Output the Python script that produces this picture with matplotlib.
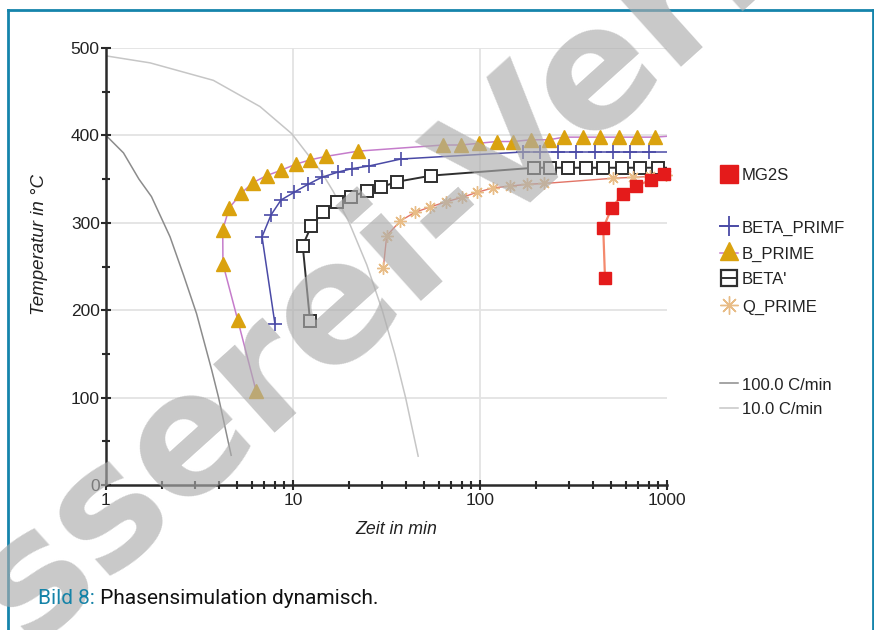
import matplotlib
matplotlib.use('Agg')
import matplotlib.pyplot as plt
from matplotlib.lines import Line2D
from matplotlib.ticker import FixedLocator, NullFormatter, FixedFormatter

# ---------------- data ----------------
b_prime_t = [6.34, 5.06, 4.22, 4.21, 4.56, 5.30, 6.11, 7.23, 8.60, 10.34, 12.33, 15.02, 22.3,
             63.6, 79.1, 98.8, 122.8, 150.7, 186.7, 233.9, 281.3, 354, 438, 554, 688, 863, 1000]
b_prime_T = [108, 189, 253, 292, 317, 334, 346, 354, 360, 367, 372, 376, 382,
             389, 389, 391, 393, 393, 395, 395, 398, 398, 398, 398, 398, 398, 399]

beta_prime_t = [8.01, 6.83, 7.63, 8.62, 10.15, 12.03, 14.23, 17.4, 20.7, 25.5, 37.8,
                169, 209, 262, 326, 412, 512, 634, 804, 1000]
beta_prime_T = [184, 284, 309, 326, 335, 344, 352, 358, 362, 365, 373,
                381, 381, 381, 381, 381, 381, 381, 381, 381]

beta_t = [12.33, 11.27, 12.51, 14.41, 17.19, 20.37, 24.8, 29.7, 36.1, 54.9,
          195, 236.7, 296.7, 367.5, 456.5, 572.3, 717, 898, 1000]
beta_T = [188, 274, 296, 312, 324, 330, 336, 341, 347, 354,
          363, 363, 363, 363, 363, 363, 363, 363, 363]

q_prime_t = [30.4, 31.7, 37.4, 44.9, 54.0, 65.8, 79.8, 96.8, 117.8, 144.6, 177.7, 220.7,
             516, 655, 811, 988]
q_prime_T = [248, 285, 302, 312, 318, 324, 329, 335, 340, 342, 344, 345,
             351, 352, 353, 355]

mg2s_t = [466, 456, 506, 580, 683, 818, 964]
mg2s_T = [237, 294, 317, 333, 342, 349, 356]

cool100_t = [1.0, 1.24, 1.5, 1.75, 2.2, 2.6, 3.05, 3.67, 4.0, 4.67]
cool100_T = [400, 380, 350, 330, 284, 240, 196, 132, 100, 34]

cool10_t = [1.0, 1.72, 3.75, 6.66, 9.84, 14.2, 16.4, 20, 24.8, 30, 35, 40, 46.7]
cool10_T = [491, 483, 463, 433, 402, 358, 336, 300, 252, 200, 150, 100, 33]

y_ticks = [0, 100, 200, 300, 400, 500]
x_ticks = [1, 10, 100, 1000]
x_tick_labels = ['1', '10', '100', '1000']

legend_names = ['MG2S', 'BETA_PRIMF', 'B_PRIME', "BETA'", 'Q_PRIME', '100.0 C/min', '10.0 C/min']

# ---------------- figure ----------------
W, H = 874, 630
fig = plt.figure(figsize=(W / 100, H / 100), dpi=100)
fig.patch.set_facecolor('white')

def fx(px):
    return px / W

def fy(py):
    return 1 - py / H

FONT = ['Liberation Sans', 'DejaVu Sans']
TXT = '#222222'

ax = fig.add_axes([fx(106), fy(485), fx(667) - fx(106), fy(48) - fy(485)])
ax.set_xscale('log')
ax.set_xlim(1, 1000)
ax.set_ylim(0, 500)

# grid
for g in [10, 100]:
    ax.axvline(g, color='#e3e3e3', lw=1.3, zorder=0)
for g in [100, 200, 300, 400, 500]:
    ax.axhline(g, color='#e3e3e3', lw=1.3, zorder=0)

# cooling curves
ax.plot(cool100_t, cool100_T, color='#8c8c8c', lw=1.1, zorder=2)
ax.plot(cool10_t, cool10_T, color='#c6c6c6', lw=1.1, zorder=2)

# phases
c_bp_line, c_bp_mark = '#c57ccb', '#daa20f'
c_betap = '#4a4aa6'
c_beta = '#2f2f2f'
c_q_line, c_q_mark = '#e27466', '#e8bc86'
c_mg_line, c_mg_mark = '#f4896d', '#e41b1b'

ax.plot(b_prime_t, b_prime_T, color=c_bp_line, lw=1.1, zorder=3)
ax.plot(b_prime_t[:-1], b_prime_T[:-1], ls='none', marker='^', ms=10,
        mfc=c_bp_mark, mec=c_bp_mark, zorder=4, clip_on=False)

ax.plot(beta_prime_t, beta_prime_T, color=c_betap, lw=1.1, zorder=3)
ax.plot(beta_prime_t[:-1], beta_prime_T[:-1], ls='none', marker='+', ms=10, mew=1.2,
        color=c_betap, zorder=4, clip_on=False)

ax.plot(beta_t, beta_T, color=c_beta, lw=1.4, zorder=3)
ax.plot(beta_t[:-1], beta_T[:-1], ls='none', marker='s', ms=8, mew=1.4,
        mfc='white', mec=c_beta, zorder=4, clip_on=False)

ax.plot(q_prime_t, q_prime_T, color=c_q_line, lw=1.0, zorder=3)
ax.plot(q_prime_t, q_prime_T, ls='none', marker=(8, 2, 0), ms=9, mew=1.0,
        color=c_q_mark, zorder=4, clip_on=False)

ax.plot(mg2s_t, mg2s_T, color=c_mg_line, lw=1.6, zorder=3)
ax.plot(mg2s_t, mg2s_T, ls='none', marker='s', ms=9, mfc=c_mg_mark, mec=c_mg_mark,
        zorder=4, clip_on=False)

# spines & ticks
for s in ['top', 'right']:
    ax.spines[s].set_visible(False)
for s in ['left', 'bottom']:
    ax.spines[s].set_color('#2a2a2a')
    ax.spines[s].set_linewidth(1.8)
    ax.spines[s].set_zorder(5)

ax.xaxis.set_major_locator(FixedLocator(x_ticks))
ax.xaxis.set_major_formatter(FixedFormatter(x_tick_labels))
minor_x = [m * 10 ** d for d in range(3) for m in range(2, 10)]
ax.xaxis.set_minor_locator(FixedLocator(minor_x))
ax.xaxis.set_minor_formatter(NullFormatter())
ax.yaxis.set_major_locator(FixedLocator(y_ticks))
ax.yaxis.set_minor_locator(FixedLocator([50, 150, 250, 350, 450]))
ax.tick_params(which='both', direction='inout', color='#2a2a2a', width=1.5)
ax.tick_params(which='major', length=7, labelsize=12.5, labelcolor=TXT)
ax.tick_params(which='minor', length=5.5)
ax.tick_params(axis='y', pad=1)
ax.tick_params(axis='x', pad=2)
for lab in ax.get_xticklabels() + ax.get_yticklabels():
    lab.set_family(FONT)

# axis labels
fig.text(fx(40), fy(245), 'Temperatur in °C', rotation=90, ha='center', va='center',
         fontsize=13.5, style='italic', color=TXT, family=FONT)
fig.text(fx(396), fy(530), 'Zeit in min', ha='center', va='center',
         fontsize=12.8, style='italic', color=TXT, family=FONT)

# legend (manual)
lx0, lxm, lx1, tx = 720, 729, 738, 742
def leg_line(y, **kw):
    fig.add_artist(Line2D([fx(lx0), fx(lx1)], [fy(y), fy(y)], transform=fig.transFigure, **kw))
def leg_mark(y, **kw):
    fig.add_artist(Line2D([fx(lxm)], [fy(y)], transform=fig.transFigure, ls='none', **kw))
def leg_text(y, s):
    fig.text(fx(tx), fy(y), s, ha='left', va='center', fontsize=12, color=TXT, family=FONT)

leg_mark(174, marker='s', ms=13, mfc=c_mg_mark, mec=c_mg_mark)
leg_text(175, legend_names[0])
leg_line(226, color=c_betap, lw=1.1)
leg_mark(226, marker='+', ms=14, mew=1.3, color=c_betap)
leg_text(228, legend_names[1])
leg_line(253, color=c_bp_line, lw=1.1)
leg_mark(251, marker='^', ms=13, mfc=c_bp_mark, mec=c_bp_mark)
leg_text(254, legend_names[2])
leg_mark(278, marker='s', ms=12, mew=1.6, mfc='white', mec=c_beta)
fig.add_artist(Line2D([fx(lxm - 6), fx(lxm + 6)], [fy(278), fy(278)], transform=fig.transFigure,
                      color=c_beta, lw=1.4))
leg_text(280, legend_names[3])
leg_mark(305, marker=(8, 2, 0), ms=13, mew=1.0, color=c_q_mark)
leg_text(307, legend_names[4])
leg_line(383, color='#8c8c8c', lw=1.1)
leg_text(385, legend_names[5])
leg_line(408, color='#c6c6c6', lw=1.1)
leg_text(410, legend_names[6])

# frame
for seg in [([8, 8], [10, 640]), ([8, 872.5], [10, 10]), ([872.5, 872.5], [10, 640])]:
    fig.add_artist(Line2D([fx(v) for v in seg[0]], [fy(v) for v in seg[1]],
                          transform=fig.transFigure, color='#1584ab', lw=2.0))

# watermark
fig.text(fx(343), fy(302), 'Giesserei-Verlag', rotation=42, rotation_mode='anchor',
         ha='center', va='center', fontsize=121, fontweight='bold', color='#acacac',
         alpha=0.65, family=['DejaVu Sans'], zorder=10)

# caption (above the watermark)
CAP_FONT = ['Roboto', 'DejaVu Sans']
t1 = fig.text(fx(38), fy(604), 'Bild 8:', ha='left', va='baseline', fontsize=15,
              color='#1583a8', family=CAP_FONT, zorder=12)
renderer = fig.canvas.get_renderer()
x_end = t1.get_window_extent(renderer=renderer).x1 / (W)
fig.text(x_end, fy(604), ' Phasensimulation dynamisch.', ha='left', va='baseline',
         fontsize=15, color='#111111', family=CAP_FONT, zorder=12)

fig.savefig('out.png', dpi=100, facecolor='white')
